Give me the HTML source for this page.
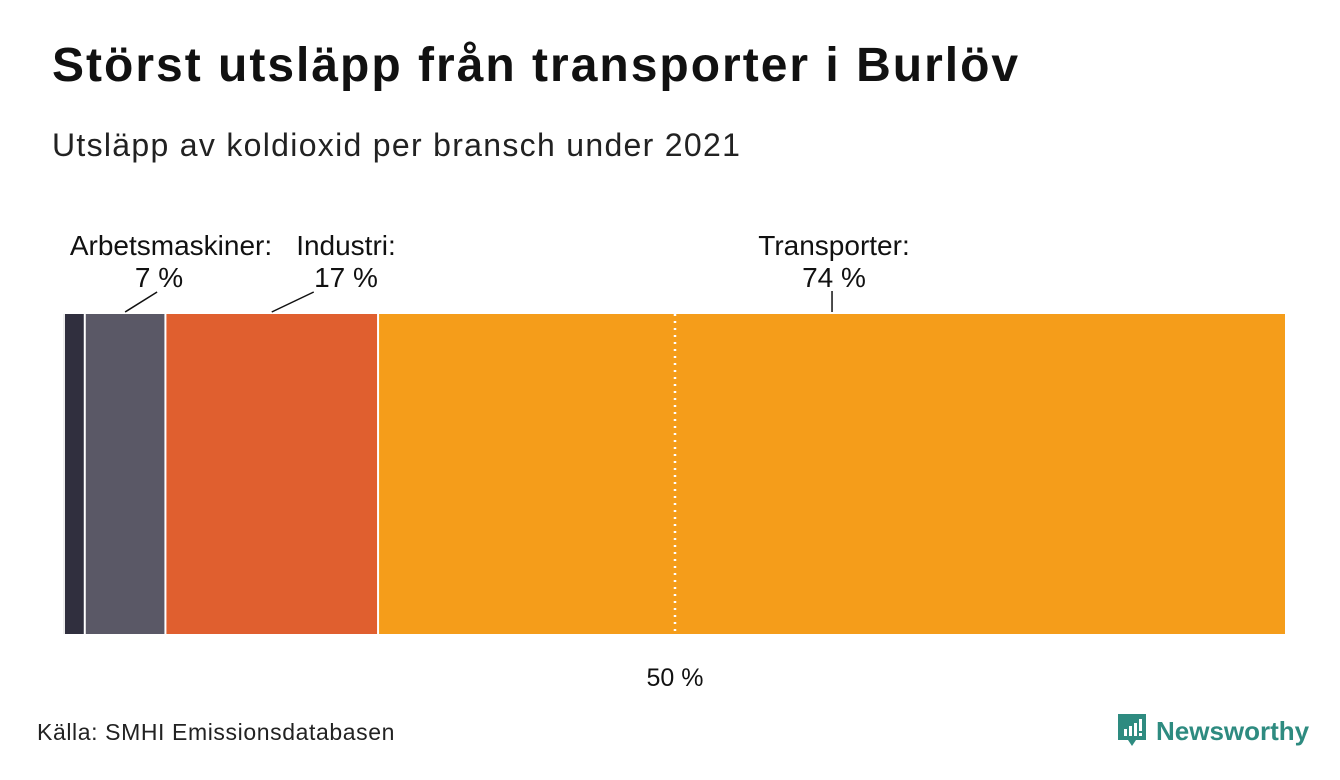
<!DOCTYPE html>
<html><head><meta charset="utf-8"><style>
body{margin:0;width:1340px;height:780px;background:#fff;font-family:"Liberation Sans",sans-serif;overflow:hidden;position:relative}
h1{position:absolute;left:52px;top:38px;margin:0;font-size:48px;font-weight:bold;color:#111;letter-spacing:2px;white-space:nowrap}
.sub{position:absolute;left:52px;top:127px;font-size:32px;color:#222;letter-spacing:1.3px;white-space:nowrap}
.src{position:absolute;left:37px;top:719px;font-size:23px;color:#222;letter-spacing:0.6px}
.logo{position:absolute;left:1118px;top:714px;display:flex;align-items:center;gap:10px;color:#2e8b80;font-weight:bold;font-size:26px}
</style></head><body>
<h1>Störst utsläpp från transporter i Burlöv</h1>
<div class="sub">Utsläpp av koldioxid per bransch under 2021</div>
<svg id="chart" width="1340" height="780" style="position:absolute;left:0;top:0"></svg>
<div class="src">Källa: SMHI Emissionsdatabasen</div>
<div class="logo">
<svg width="28" height="34" viewBox="0 0 28 34"><path d="M0 0h28v26h-10l-4 6-4-6H0z" fill="#2e8b80"/><rect x="6" y="15" width="3" height="7" fill="#fff"/><rect x="11" y="12" width="3" height="10" fill="#fff"/><rect x="16" y="9" width="3" height="13" fill="#fff"/><rect x="21" y="5" width="3" height="12" fill="#fff"/><rect x="21" y="19" width="3" height="3" fill="#fff"/></svg>
<span>Newsworthy</span></div>
<script>
const categories=["Övrigt","Arbetsmaskiner","Industri","Transporter"];
const values=[1.7,6.6,17.4,74.3];
const labels=["","Arbetsmaskiner:\n7 %","Industri:\n17 %","Transporter:\n74 %"];
const colors=["#302f3e","#5a5866","#e05f2f","#f59d1a"];
const refLine=[50];
const X0=64,W=1222,Y0=314,H=320;
const NS="http://www.w3.org/2000/svg";
const svg=document.getElementById('chart');
const x=v=>X0+v/100*W;
function mk(t,a){const e=document.createElementNS(NS,t);for(const k in a)e.setAttribute(k,a[k]);svg.appendChild(e);return e;}
let cum=0;
const tx=[0,171,346,834],ang=[0,1,1,0];
values.forEach((v,i)=>{
  const r=mk('rect',{x:x(cum)+1,y:Y0,width:Math.max(0,x(cum+v)-x(cum)-2),height:H,fill:colors[i]});
  
  
  const mid=x(cum+v/2);
  if(labels[i]){
    const lines=labels[i].split("\n");
    const t=mk('text',{x:tx[i],y:255,'font-size':28,fill:'#111','text-anchor':'middle','font-family':'Liberation Sans,sans-serif'});
    
    
    lines.forEach((l,j)=>{const s=document.createElementNS(NS,'tspan');s.setAttribute('x',tx[i]+(j==1&&i==1?-12:0));s.setAttribute('dy',j?32:0);s.textContent=l;t.appendChild(s);});
    const l=mk('line',{x1:ang[i]?mid+(i==1?32:42):mid,y1:ang[i]?292:291,x2:mid,y2:312,stroke:'#111','stroke-width':1.5});
    
    
  }
  cum+=v;
});
const bl=mk('line',{x1:X0,y1:Y0,x2:X0,y2:Y0+H,stroke:'#ddd','stroke-width':1});


refLine.forEach(p=>{
  const l=mk('line',{x1:x(p),y1:Y0,x2:x(p),y2:Y0+H,stroke:'#fff','stroke-width':2.5,'stroke-dasharray':'2 5'});
  
  
  const t=mk('text',{x:x(p),y:686,'font-size':25,fill:'#111','text-anchor':'middle','font-family':'Liberation Sans,sans-serif'});
  t.textContent=p+" %";
  
  
});
</script>
</body></html>
